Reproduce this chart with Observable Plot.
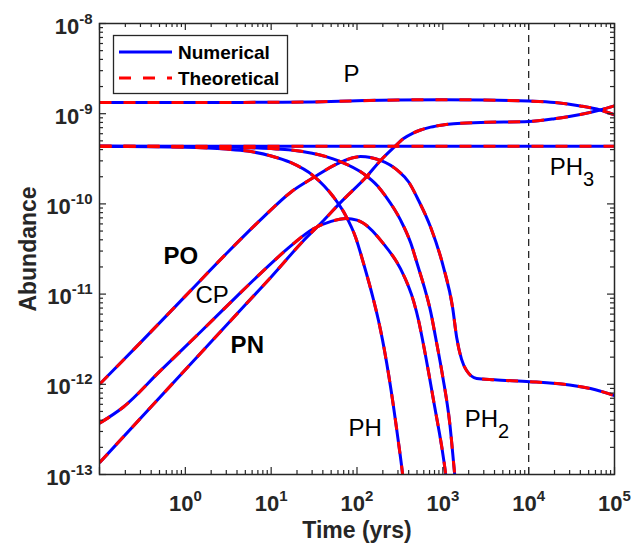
<!DOCTYPE html>
<html><head><meta charset="utf-8">
<script src="https://cdn.jsdelivr.net/npm/d3@7"></script>
<script src="https://cdn.jsdelivr.net/npm/@observablehq/plot@0.6"></script>
<style>body{margin:0;background:#fff;} svg{display:block;}</style>
</head><body><div id="chart"></div>
<script>
// ---- data (time in years, abundance) ----
const curveP = [[0.1,1.33e-9],[1,1.33e-9],[10,1.34e-9],[30,1.35e-9],[100,1.39e-9],[300,1.42e-9],[1000,1.43e-9],[3000,1.42e-9],[1e4,1.38e-9],[2e4,1.33e-9],[4e4,1.22e-9],[6.8e4,1.1e-9],[1e5,0.97e-9]];
const curveFlat = [[0.1,4.36e-10],[1e5,4.36e-10]];
const curveFastDecay = [[0.1,4.36e-10],[1,4.25e-10],[3,4.05e-10],[5.3,3.85e-10],[10,3.4e-10],[16.8,2.88e-10],[31,2.05e-10],[53,1.2e-10],[74,7.4e-11],[96,4.3e-11],[119,2.2e-11],[156,8.6e-12],[178,5.1e-12],[199,3.05e-12],[250,8.5e-13],[300,2.5e-13],[340,1.0e-13],[360,6e-14]];
const curveSlowDecay = [[0.1,4.36e-10],[1,4.33e-10],[3,4.28e-10],[10,4.1e-10],[17,3.97e-10],[30,3.65e-10],[61,3.0e-10],[120,2.15e-10],[174,1.58e-10],[215,1.22e-10],[322,6.6e-11],[422,3.7e-11],[508,2.1e-11],[620,1.12e-11],[721,6.4e-12],[824,3.3e-12],[1000,1.2e-12],[1200,3.8e-13],[1375,1.0e-13],[1450,6e-14]];
const curvePeakHigh = [[0.1,1e-12],[0.3,2.9e-12],[1,9.5e-12],[3.16,2.95e-11],[7.94,7.0e-11],[16.8,1.34e-10],[31.2,1.96e-10],[59.4,2.8e-10],[110,3.35e-10],[188,3.03e-10],[297,2.35e-10],[400,1.75e-10],[522,1.09e-10],[721,5.5e-11],[1020,1.97e-11],[1300,7.1e-12],[1450,3.3e-12],[1650,1.9e-12],[1890,1.42e-12],[2480,1.16e-12],[4000,1.12e-12],[1.03e4,1.07e-12],[3e4,9.8e-13],[6e4,8.7e-13],[1e5,7.5e-13]];
const curvePeakLow = [[0.1,3.7e-13],[0.19,5.6e-13],[0.5,1.38e-12],[1.5,3.8e-12],[4,9.5e-12],[8.2,1.83e-11],[16.8,3.4e-11],[31,5.3e-11],[50,6.4e-11],[75,6.9e-11],[100,6.6e-11],[119,6.1e-11],[204,3.6e-11],[322,1.9e-11],[457,8.3e-12],[522,5.1e-12],[582,3.06e-12],[780,6.6e-13],[1080,1.0e-13],[1150,6e-14]];
const curveRise = [[0.1,1.35e-13],[1,1.45e-12],[5,7.6e-12],[10,1.55e-11],[23.9,3.93e-11],[40.8,6.55e-11],[64.4,1.04e-10],[133,2.07e-10],[188,3.03e-10],[267,4.2e-10],[349,5.3e-10],[450,6.1e-10],[550,6.6e-10],[721,7.1e-10],[1000,7.5e-10],[1340,7.75e-10],[2750,8.0e-10],[1e4,8.2e-10],[2e4,8.8e-10],[4e4,9.8e-10],[6.8e4,1.1e-9],[1e5,1.22e-9]];

const seriesNames = ["P","flat","fastDecay","slowDecay","peakHigh","peakLow","rise"];
const seriesData = [curveP, curveFlat, curveFastDecay, curveSlowDecay, curvePeakHigh, curvePeakLow, curveRise];
const legendLabels = ["Numerical","Theoretical"];
const refTimes = [1e4];

const xTickExps = [0,1,2,3,4,5];
const yTickExps = [-13,-12,-11,-10,-9,-8];

const annoText  = ["P","PH_3","PH","PH_2","PO","CP","PN"];
const annoTime  = [69.8, 1.76e4, 79.8, 1795, 0.557, 1.315, 3.37];
const annoAbund = [2.22e-9, 2.07e-10, 2.7e-13, 3.32e-13, 2.18e-11, 7.87e-12, 2.25e-12];
const annoBold  = [false,false,false,false,true,false,true];

// ---- derived tables ----
const rows = seriesData.flatMap((arr,i)=>arr.map(([t,a])=>({series:seriesNames[i], t, a})));
const annos = annoText.map((s,i)=>({s, t:annoTime[i], a:annoAbund[i], bold:annoBold[i]}));
const xMajor = [-1,...xTickExps].map(e=>10**e);
const yMajor = yTickExps.map(e=>10**e);
const xMinor = []; for (let d=-1; d<5; d++) for (let k=2;k<10;k++) xMinor.push(k*10**d);
const yMinor = []; for (let d=-13; d<-8; d++) for (let k=2;k<10;k++) yMinor.push(k*10**d);

const W=632, H=546, mL=99, mR=18, mT=23, mB=72;
const pw = W-mL-mR, ph = H-mT-mB;
const axisColor = "#262626";
const maj = 7, mnr = 4;
const dash = "12,12";

const plot = Plot.plot({
  width: W, height: H,
  marginLeft: mL, marginRight: mR, marginTop: mT, marginBottom: mB,
  style: {fontFamily: "'Liberation Sans', Arial, Helvetica, sans-serif", background: "white", overflow: "visible"},
  x: {type: "log", domain: [0.1, 1e5], axis: null},
  y: {type: "log", domain: [1e-13, 1e-8], axis: null},
  marks: [
    Plot.ruleX(refTimes, {x: d=>d, stroke: axisColor, strokeWidth: 1.3, strokeDasharray: "7,5"}),
    Plot.line(rows, {x:"t", y:"a", z:"series", stroke:"#0000ff", strokeWidth:3, strokeLinecap:"butt", curve:"monotone-x", clip:true}),
    Plot.line(rows, {x:"t", y:"a", z:"series", stroke:"#ff0000", strokeWidth:3, strokeLinecap:"butt", strokeDasharray:dash, curve:"monotone-x", clip:true}),
    // ticks
    Plot.tickX(xMajor, {x:d=>d, insetTop: ph-maj, stroke: axisColor, strokeWidth:1.2}),
    Plot.tickX(xMajor, {x:d=>d, insetBottom: ph-maj, stroke: axisColor, strokeWidth:1.2}),
    Plot.tickX(xMinor, {x:d=>d, insetTop: ph-mnr, stroke: axisColor, strokeWidth:1.2}),
    Plot.tickX(xMinor, {x:d=>d, insetBottom: ph-mnr, stroke: axisColor, strokeWidth:1.2}),
    Plot.tickY(yMajor, {y:d=>d, insetRight: pw-maj, stroke: axisColor, strokeWidth:1.2}),
    Plot.tickY(yMajor, {y:d=>d, insetLeft: pw-maj, stroke: axisColor, strokeWidth:1.2}),
    Plot.tickY(yMinor, {y:d=>d, insetRight: pw-mnr, stroke: axisColor, strokeWidth:1.2}),
    Plot.tickY(yMinor, {y:d=>d, insetLeft: pw-mnr, stroke: axisColor, strokeWidth:1.2}),
    Plot.frame({stroke: axisColor, strokeWidth: 1.5}),
    // tick labels
    Plot.text(xTickExps, {x:e=>10**e, text:e=>`10^${e}`, frameAnchor:"bottom", dy:36, lineAnchor:"bottom", textAnchor:"middle", fontSize:22, fontWeight:"bold", fill:axisColor}),
    Plot.text(yTickExps, {y:e=>10**e, text:e=>`10^${e}`, frameAnchor:"left", dx:-7, dy:10, lineAnchor:"bottom", textAnchor:"end", fontSize:22, fontWeight:"bold", fill:axisColor}),
    // axis titles
    Plot.text(["Time (yrs)"], {frameAnchor:"bottom", dy:63, lineAnchor:"bottom", textAnchor:"middle", fontSize:23, fontWeight:"bold", fill:axisColor}),
    Plot.text(["Abundance"], {frameAnchor:"left", dx:-64, rotate:-90, lineAnchor:"bottom", textAnchor:"middle", fontSize:23, fontWeight:"bold", fill:axisColor}),
    // curve annotations
    Plot.text(annos.filter(d=>!d.bold), {x:"t", y:"a", text:"s", lineAnchor:"bottom", textAnchor:"start", fontSize:24, fill:"#000"}),
    Plot.text(annos.filter(d=>d.bold), {x:"t", y:"a", text:"s", lineAnchor:"bottom", textAnchor:"start", fontSize:24, fontWeight:"bold", fill:"#000"})
  ]
});

// superscripts / subscripts
const NS = "http://www.w3.org/2000/svg";
plot.querySelectorAll("text").forEach(t=>{
  const s = t.textContent;
  let m = s.match(/^(.*)\^(.*)$/), sub = false;
  if (!m) { m = s.match(/^(.*)_(.*)$/); sub = true; }
  if (!m) return;
  t.textContent = "";
  const a = document.createElementNS(NS,"tspan"); a.textContent = m[1]; t.appendChild(a);
  const b = document.createElementNS(NS,"tspan"); b.textContent = m[2];
  if (sub) { b.setAttribute("dy","11"); b.setAttribute("font-size","20"); }
  else { b.setAttribute("dy","-10"); b.setAttribute("font-size","15"); }
  t.appendChild(b);
});

// legend (inside the plot area, top-left)
const g = d3.select(plot).append("g")
  .attr("font-family","'Liberation Sans', Arial, Helvetica, sans-serif")
  .attr("text-anchor","start");
g.append("rect").attr("x",113.5).attr("y",35.5).attr("width",174).attr("height",58)
  .attr("fill","white").attr("stroke",axisColor).attr("stroke-width",1.3);
const legendStyles = [{stroke:"#0000ff", dash:null, y:52}, {stroke:"#ff0000", dash:dash, y:78}];
legendLabels.forEach((lab,i)=>{
  const st = legendStyles[i];
  const ln = g.append("line").attr("x1",119).attr("x2",172).attr("y1",st.y).attr("y2",st.y)
    .attr("stroke",st.stroke).attr("stroke-width",3).attr("stroke-linecap","butt");
  if (st.dash) ln.attr("stroke-dasharray",st.dash);
  g.append("text").attr("x",178).attr("y",st.y+7).attr("font-size",19).attr("font-weight","bold")
    .attr("text-anchor","start").attr("fill","#000").text(lab);
});

document.getElementById("chart").appendChild(plot);
</script>
</body></html>
